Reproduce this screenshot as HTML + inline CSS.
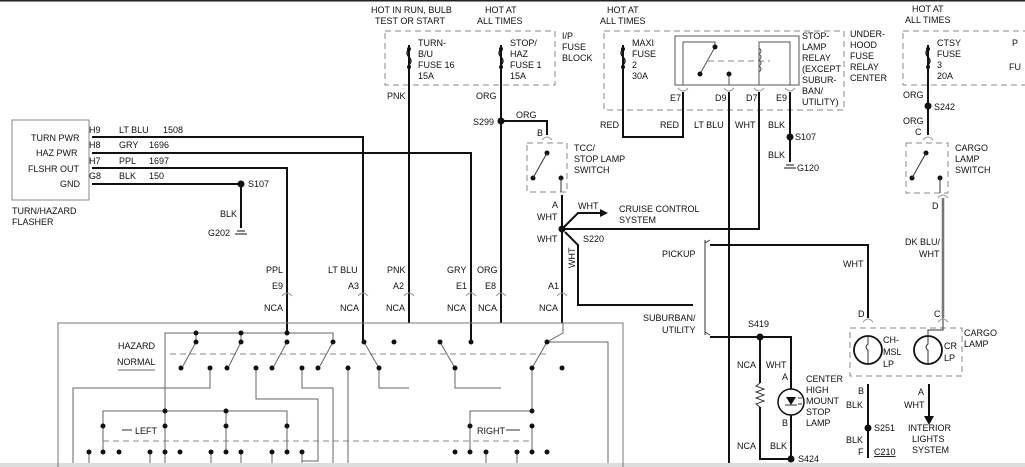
<!DOCTYPE html>
<html><head><meta charset="utf-8"><style>
html,body{margin:0;padding:0;background:#fff;width:1025px;height:467px;overflow:hidden}
svg text{font-family:"Liberation Sans",Arial,sans-serif;font-size:9px;fill:#111}
</style></head><body>
<svg width="1025" height="467" viewBox="0 0 1025 467" xmlns="http://www.w3.org/2000/svg">
<rect x="0" y="0" width="1025" height="1.5" fill="#222"/>
<rect x="0" y="463" width="1025" height="4" fill="#ddd"/>
<g fill="none" stroke="#888" stroke-width="1" stroke-dasharray="6,4">
<rect x="385" y="31" width="170" height="54"/>
<rect x="604" y="31" width="240" height="79"/>
<rect x="903" y="31" width="130" height="54"/>
<rect x="527" y="143" width="40" height="49"/>
<rect x="906" y="143" width="42" height="50"/>
<rect x="850" y="328" width="112" height="48"/>
<line x1="170" y1="354" x2="547" y2="354"/>
<line x1="103" y1="441" x2="532" y2="441"/>
<line x1="708" y1="61" x2="770" y2="61"/>
</g>
<g fill="none" stroke="#111" stroke-width="2">
<polyline points="92,137 363,137 363,342"/>
<polyline points="92,153 471,153 471,342"/>
<polyline points="92,168 287,168 287,333"/>
<polyline points="92,184 241,184 241,228"/>
<line x1="409" y1="45" x2="409" y2="323"/>
<line x1="501" y1="45" x2="501" y2="323"/>
<polyline points="501,121 547,121 547,135"/>
<line x1="562" y1="195" x2="562" y2="323"/>
<polyline points="562,229 578,213 600,213"/>
<polyline points="565,232 578,245 578,305 693,305"/>
<polyline points="562,229 759,229 759,92"/>
<line x1="729" y1="92" x2="729" y2="463"/>
<polyline points="623,45 623,137 683,137 683,92"/>
<line x1="790" y1="92" x2="790" y2="162"/>
<polyline points="710,245 868,245 868,318"/>
<polyline points="710,337 791,337 791,389"/>
<polyline points="760,337 760,383"/>
<polyline points="760,407 760,459 791,459 791,415"/>
<line x1="868" y1="384" x2="868" y2="458"/>
<line x1="928" y1="45" x2="928" y2="135"/>
<line x1="929" y1="384" x2="929" y2="416"/>
</g>
<line x1="943" y1="198" x2="943" y2="318" stroke="#777" stroke-width="2.5"/>
<rect x="12" y="120" width="77" height="80" fill="none" stroke="#888"/>
<rect x="675" y="36" width="124" height="49" fill="none" stroke="#555"/>
<polyline points="683,85 683,42 715,42 715,47" fill="none" stroke="#555"/>
<line x1="715" y1="47" x2="700" y2="74" stroke="#555"/>
<line x1="729" y1="74" x2="729" y2="85" stroke="#555"/>
<polyline points="790,85 790,42 759,42 759,85" fill="none" stroke="#555"/>
<path d="M759,48 q4,3 0,6 q4,3 0,6 q4,3 0,6 q4,3 0,6" fill="none" stroke="#555"/>
<g fill="none" stroke="#111" stroke-width="1.3">
<path d="M409,45 v4 q-4,4 0,8 q4,4 0,8 v2"/>
<path d="M501,45 v4 q-4,4 0,8 q4,4 0,8 v2"/>
<path d="M623,45 v4 q-4,4 0,8 q4,4 0,8 v2"/>
<path d="M928,45 v4 q-4,4 0,8 q4,4 0,8 v2"/>
</g>
<g fill="none" stroke="#777" stroke-width="1">
<polyline points="58,467 58,323 623,323 623,467"/>
</g>
<g fill="none" stroke="#666" stroke-width="1">
<polyline points="165,463 165,333 333,333 333,342"/>
<line x1="196" y1="333" x2="196" y2="342"/><line x1="241" y1="333" x2="241" y2="342"/>
<line x1="196" y1="342" x2="183" y2="366"/><line x1="241" y1="342" x2="229" y2="366"/>
<line x1="287" y1="342" x2="274" y2="366"/><line x1="333" y1="342" x2="320" y2="366"/>
<line x1="364" y1="342" x2="379" y2="368"/><line x1="440" y1="342" x2="455" y2="368"/>
<polyline points="563,323 563,333 547,342 532,368"/>
<polyline points="547,342 608,342 608,463"/>
<polyline points="379,368 379,388 409,388"/>
<polyline points="455,368 455,388 501,388"/>
<polyline points="210,368 210,388 73,388 73,463"/>
<polyline points="256,368 256,399 318,399 318,461 302,461"/>
<polyline points="302,368 302,388 333,388 333,463"/>
<line x1="348" y1="368" x2="348" y2="463"/>
<polyline points="103,426 103,411 287,411 287,426"/>
<line x1="226" y1="411" x2="226" y2="426"/>
<polyline points="470,426 470,411 532,411 532,368"/>
<line x1="103" y1="426" x2="103" y2="452"/><line x1="165" y1="426" x2="165" y2="452"/>
<line x1="226" y1="426" x2="226" y2="452"/><line x1="287" y1="426" x2="287" y2="452"/>
<line x1="470" y1="426" x2="470" y2="452"/><line x1="532" y1="426" x2="532" y2="452"/>
<line x1="89" y1="452" x2="89" y2="463"/><line x1="150" y1="452" x2="150" y2="463"/>
<line x1="211" y1="452" x2="211" y2="463"/><line x1="241" y1="452" x2="241" y2="463"/>
<line x1="272" y1="452" x2="272" y2="463"/><line x1="302" y1="452" x2="302" y2="463"/>
<line x1="486" y1="452" x2="486" y2="463"/><line x1="517" y1="452" x2="517" y2="463"/>
<line x1="118" y1="370" x2="155" y2="370"/>
</g>
<g fill="#111">
<circle cx="196" cy="333" r="2.5"/><circle cx="241" cy="333" r="2.5"/><circle cx="287" cy="333" r="2.5"/>
<circle cx="196" cy="342" r="2.5"/><circle cx="241" cy="342" r="2.5"/><circle cx="287" cy="342" r="2.5"/><circle cx="333" cy="342" r="2.5"/>
<circle cx="364" cy="342" r="2.5"/><circle cx="394" cy="342" r="2.5"/><circle cx="440" cy="342" r="2.5"/><circle cx="471" cy="342" r="2.5"/><circle cx="547" cy="342" r="2.5"/>
<circle cx="181" cy="368" r="2.5"/><circle cx="210" cy="368" r="2.5"/><circle cx="227" cy="368" r="2.5"/><circle cx="256" cy="368" r="2.5"/><circle cx="272" cy="368" r="2.5"/><circle cx="302" cy="368" r="2.5"/><circle cx="318" cy="368" r="2.5"/><circle cx="348" cy="368" r="2.5"/><circle cx="379" cy="368" r="2.5"/><circle cx="455" cy="368" r="2.5"/><circle cx="532" cy="368" r="2.5"/><circle cx="562" cy="368" r="2.5"/>
<circle cx="165" cy="411" r="2.5"/><circle cx="226" cy="411" r="2.5"/><circle cx="532" cy="411" r="2.5"/>
<circle cx="103" cy="426" r="2.5"/><circle cx="165" cy="426" r="2.5"/><circle cx="226" cy="426" r="2.5"/><circle cx="287" cy="426" r="2.5"/><circle cx="470" cy="426" r="2.5"/><circle cx="532" cy="426" r="2.5"/>
<circle cx="89" cy="452" r="2.5"/><circle cx="103" cy="452" r="2.5"/><circle cx="119" cy="452" r="2.5"/><circle cx="150" cy="452" r="2.5"/><circle cx="165" cy="452" r="2.5"/><circle cx="180" cy="452" r="2.5"/><circle cx="211" cy="452" r="2.5"/><circle cx="226" cy="452" r="2.5"/><circle cx="241" cy="452" r="2.5"/><circle cx="272" cy="452" r="2.5"/><circle cx="287" cy="452" r="2.5"/><circle cx="302" cy="452" r="2.5"/>
<circle cx="455" cy="452" r="2.5"/><circle cx="470" cy="452" r="2.5"/><circle cx="486" cy="452" r="2.5"/><circle cx="517" cy="452" r="2.5"/><circle cx="532" cy="452" r="2.5"/><circle cx="547" cy="452" r="2.5"/>
<circle cx="501" cy="121" r="3.5"/><circle cx="241" cy="184" r="3.5"/><circle cx="562" cy="229" r="3.5"/>
<circle cx="790" cy="137" r="3.5"/><circle cx="928" cy="106" r="3.5"/><circle cx="760" cy="337" r="3.5"/><circle cx="791" cy="459" r="3.5"/><circle cx="868" cy="428" r="3.5"/>
<circle cx="409" cy="49" r="2"/><circle cx="409" cy="67" r="2"/><circle cx="501" cy="49" r="2"/><circle cx="501" cy="67" r="2"/>
<circle cx="623" cy="49" r="2"/><circle cx="623" cy="67" r="2"/><circle cx="928" cy="49" r="2"/><circle cx="928" cy="67" r="2"/>
<circle cx="715" cy="47" r="2.5"/><circle cx="700" cy="74" r="2.5"/><circle cx="729" cy="74" r="2.5"/>
<circle cx="547" cy="153" r="2.5"/><circle cx="533" cy="178" r="2.5"/><circle cx="561" cy="178" r="2.5"/>
<circle cx="926" cy="153" r="2.5"/><circle cx="912" cy="178" r="2.5"/><circle cx="940" cy="178" r="2.5"/>
<path d="M600,209 l8,4 -8,4z"/><path d="M924,416 h10 l-5,9z"/>
<path d="M786,397 h10 l-5,8z"/>
<path d="M237,231 h8 M235,234 h12" stroke="#111"/><path d="M786,165 h8 M784,168 h12" stroke="#111"/>
</g>
<g stroke="#333" fill="none">
<line x1="561" y1="178" x2="561" y2="192"/><line x1="547" y1="153" x2="533" y2="178"/>
<line x1="926" y1="153" x2="912" y2="178"/><line x1="940" y1="178" x2="940" y2="193"/>
<path d="M760,383 l-4,3 8,3 -8,3 8,3 -8,3 8,3 -8,3 4,3"/>
<circle cx="791" cy="402" r="13" stroke="#111" stroke-width="1.5"/>
<path d="M785,405 h12 M798,398 h4 M798,404 h4"/>
<circle cx="868" cy="350" r="14" stroke="#111" stroke-width="1.8"/>
<circle cx="928" cy="350" r="14" stroke="#111" stroke-width="1.8"/>
<path d="M868,336 v8 q-4,3 0,6 v14 M928,336 v8 q-4,3 0,6 v14"/>
<polyline points="943,318 943,330 928,330 928,336"/>
<path d="M705,240 v95 M710,240 l-5,3 M710,335 l-5,-3"/>
</g>
<g stroke="#999" fill="none">
<path d="M282,296 q5,-6 10,0 M358,296 q5,-6 10,0 M404,296 q5,-6 10,0 M466,296 q5,-6 10,0 M496,296 q5,-6 10,0 M557,296 q5,-6 10,0"/>
<path d="M678,88 q5,6 10,0 M724,88 q5,6 10,0 M754,88 q5,6 10,0 M785,88 q5,6 10,0"/>
<path d="M542,140 q5,-6 10,0 M923,140 q5,-6 10,0 M938,198 q5,-6 10,0 M863,322 q5,-6 10,0 M938,322 q5,-6 10,0"/>
</g>
<text x="371" y="13">HOT IN RUN, BULB</text><text x="375" y="24">TEST OR START</text>
<text x="485" y="13">HOT AT</text><text x="477" y="24">ALL TIMES</text>
<text x="607" y="13">HOT AT</text><text x="600" y="24">ALL TIMES</text>
<text x="912" y="12">HOT AT</text><text x="905" y="23">ALL TIMES</text>
<text x="418" y="46">TURN-</text><text x="418" y="57">B/U</text><text x="418" y="68">FUSE 16</text><text x="418" y="79">15A</text>
<text x="510" y="46">STOP/</text><text x="510" y="57">HAZ</text><text x="510" y="68">FUSE 1</text><text x="510" y="79">15A</text>
<text x="562" y="39">I/P</text><text x="562" y="50">FUSE</text><text x="562" y="61">BLOCK</text>
<text x="632" y="46">MAXI</text><text x="632" y="57">FUSE</text><text x="632" y="68">2</text><text x="632" y="79">30A</text>
<text x="802" y="39">STOP-</text><text x="802" y="50">LAMP</text><text x="802" y="61">RELAY</text><text x="802" y="72">(EXCEPT</text><text x="802" y="83">SUBUR-</text><text x="802" y="94">BAN/</text><text x="802" y="105">UTILITY)</text>
<text x="850" y="37">UNDER-</text><text x="850" y="48">HOOD</text><text x="850" y="59">FUSE</text><text x="850" y="70">RELAY</text><text x="850" y="81">CENTER</text>
<text x="937" y="46">CTSY</text><text x="937" y="57">FUSE</text><text x="937" y="68">3</text><text x="937" y="79">20A</text>
<text x="1012" y="46">P</text><text x="1009" y="70">FU</text>
<text x="387" y="99">PNK</text><text x="476" y="99">ORG</text>
<text x="670" y="101">E7</text><text x="715" y="101">D9</text><text x="746" y="101">D7</text><text x="776" y="101">E9</text>
<text x="600" y="128">RED</text><text x="660" y="128">RED</text><text x="694" y="128">LT BLU</text><text x="735" y="128">WHT</text><text x="768" y="128">BLK</text>
<text x="795" y="140">S107</text><text x="768" y="158">BLK</text><text x="797" y="171">G120</text>
<text x="903" y="98">ORG</text><text x="934" y="110">S242</text><text x="903" y="124">ORG</text><text x="915" y="135">C</text>
<text x="955" y="151">CARGO</text><text x="955" y="162">LAMP</text><text x="955" y="173">SWITCH</text>
<text x="932" y="209">D</text><text x="905" y="245">DK BLU/</text><text x="919" y="257">WHT</text>
<text x="516" y="118">ORG</text><text x="537" y="136">B</text><text x="473" y="125">S299</text>
<text x="574" y="151">TCC/</text><text x="574" y="162">STOP LAMP</text><text x="574" y="173">SWITCH</text>
<text x="552" y="208">A</text><text x="537" y="220">WHT</text><text x="578" y="209">WHT</text>
<text x="619" y="212">CRUISE CONTROL</text><text x="619" y="223">SYSTEM</text>
<text x="537" y="242">WHT</text><text x="583" y="242">S220</text>
<text x="0" y="0" transform="translate(575,268) rotate(-90)">WHT</text>
<text x="662" y="257">PICKUP</text><text x="643" y="321">SUBURBAN/</text><text x="662" y="333">UTILITY</text>
<text x="843" y="267">WHT</text>
<text x="748" y="327">S419</text><text x="737" y="368">NCA</text><text x="766" y="368">WHT</text><text x="782" y="380">A</text>
<text x="806" y="382">CENTER</text><text x="806" y="393">HIGH</text><text x="806" y="404">MOUNT</text><text x="806" y="415">STOP</text><text x="806" y="426">LAMP</text>
<text x="782" y="426">B</text><text x="737" y="449">NCA</text><text x="770" y="449">BLK</text><text x="798" y="462">S424</text>
<text x="858" y="317">D</text><text x="934" y="317">C</text>
<text x="883" y="343">CH-</text><text x="883" y="355">MSL</text><text x="883" y="367">LP</text>
<text x="944" y="349">CR</text><text x="944" y="361">LP</text>
<text x="964" y="336">CARGO</text><text x="964" y="347">LAMP</text>
<text x="858" y="394">B</text><text x="846" y="408">BLK</text><text x="874" y="431">S251</text><text x="846" y="443">BLK</text><text x="858" y="455">F</text><text x="874" y="455" text-decoration="underline">C210</text>
<text x="918" y="395">A</text><text x="904" y="408">WHT</text>
<text x="908" y="431">INTERIOR</text><text x="912" y="442">LIGHTS</text><text x="912" y="453">SYSTEM</text>
<text x="31" y="141">TURN PWR</text><text x="36" y="156">HAZ PWR</text><text x="28" y="172">FLSHR OUT</text><text x="60" y="187">GND</text>
<text x="89" y="133">H9</text><text x="89" y="148">H8</text><text x="89" y="164">H7</text><text x="89" y="179">G8</text>
<text x="119" y="133">LT BLU</text><text x="163" y="133">1508</text>
<text x="119" y="148">GRY</text><text x="149" y="148">1696</text>
<text x="119" y="164">PPL</text><text x="149" y="164">1697</text>
<text x="119" y="179">BLK</text><text x="149" y="179">150</text>
<text x="248" y="187">S107</text><text x="220" y="217">BLK</text><text x="208" y="236">G202</text>
<text x="12" y="214">TURN/HAZARD</text><text x="12" y="225">FLASHER</text>
<text x="266" y="273">PPL</text><text x="272" y="289">E9</text><text x="264" y="311">NCA</text>
<text x="328" y="273">LT BLU</text><text x="348" y="289">A3</text><text x="340" y="311">NCA</text>
<text x="387" y="273">PNK</text><text x="393" y="289">A2</text><text x="386" y="311">NCA</text>
<text x="447" y="273">GRY</text><text x="456" y="289">E1</text><text x="447" y="311">NCA</text>
<text x="477" y="273">ORG</text><text x="485" y="289">E8</text><text x="478" y="311">NCA</text>
<text x="548" y="289">A1</text><text x="539" y="311">NCA</text>
<text x="118" y="349">HAZARD</text><text x="117" y="365">NORMAL</text>
<text x="135" y="434">LEFT</text><text x="477" y="434">RIGHT</text>
<g stroke="#333"><line x1="122" y1="430" x2="132" y2="430"/><line x1="506" y1="430" x2="520" y2="430"/></g>
</svg>
</body></html>
